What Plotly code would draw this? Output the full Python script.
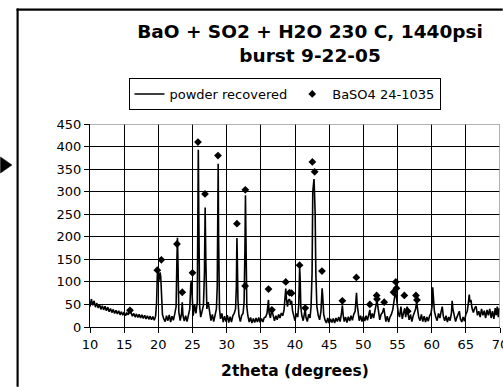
import plotly.graph_objects as go

# ---- data ----
two_theta = [
    10.0, 10.2, 10.4, 10.6, 10.8, 11.0, 11.2, 11.4, 11.6, 11.8,
    12.0, 12.2, 12.4, 12.6, 12.8, 13.0, 13.2, 13.4, 13.6, 13.8,
    14.0, 14.2, 14.4, 14.6, 14.8, 15.0, 15.2, 15.4, 15.6, 15.8,
    16.0, 16.2, 16.4, 16.6, 16.8, 17.0, 17.2, 17.4, 17.6, 17.8,
    18.0, 18.2, 18.4, 18.6, 18.8, 19.0, 19.2, 19.4, 19.6, 19.75,
    19.85, 19.95, 20.05, 20.15, 20.25, 20.35, 20.45, 20.6, 20.8,
    21.0, 21.2, 21.4, 21.6, 21.8, 22.0, 22.2, 22.4, 22.6,
    22.72, 22.8, 22.88, 23.0, 23.2, 23.4, 23.5, 23.6, 23.8,
    24.0, 24.2, 24.4, 24.6, 24.75, 24.85, 24.95, 25.1, 25.3, 25.5,
    25.7, 25.78, 25.85, 25.92, 26.05, 26.2, 26.4, 26.6, 26.75,
    26.85, 26.95, 27.1, 27.3, 27.5, 27.7, 27.9, 28.1, 28.3, 28.5,
    28.62, 28.7, 28.76, 28.82, 28.95, 29.1, 29.3, 29.5, 29.7, 29.9,
    30.1, 30.3, 30.5, 30.7, 30.9, 31.1, 31.3, 31.42, 31.5, 31.56,
    31.65, 31.8, 32.0, 32.2, 32.4, 32.55, 32.68, 32.75, 32.82, 32.95,
    33.1, 33.3, 33.5, 33.7, 33.9, 34.1, 34.3, 34.5, 34.7, 34.9,
    35.1, 35.3, 35.5, 35.7, 35.9, 36.05, 36.12, 36.2, 36.4, 36.6,
    36.8, 37.0, 37.2, 37.4, 37.6, 37.8, 38.0, 38.2, 38.4, 38.55,
    38.65, 38.75, 38.9, 39.0, 39.2, 39.35, 39.5, 39.65, 39.8, 40.0,
    40.2, 40.4, 40.55, 40.68, 40.75, 40.85, 41.0, 41.2, 41.4, 41.5,
    41.6, 41.8, 42.0, 42.2, 42.35, 42.5, 42.6, 42.7, 42.78, 42.85,
    42.95, 43.05, 43.2, 43.4, 43.6, 43.8, 43.9, 43.97, 44.05, 44.2,
    44.4, 44.6, 44.8, 45.0, 45.2, 45.4, 45.6, 45.8, 46.0, 46.2,
    46.4, 46.6, 46.8, 46.93, 47.05, 47.2, 47.4, 47.6, 47.8, 48.0,
    48.2, 48.4, 48.6, 48.8, 48.9, 49.0, 49.1, 49.25, 49.4, 49.6,
    49.8, 50.0, 50.2, 50.4, 50.6, 50.8, 50.95, 51.1, 51.3, 51.5,
    51.7, 51.85, 52.0, 52.1, 52.25, 52.4, 52.6, 52.8, 53.0, 53.15,
    53.3, 53.5, 53.7, 53.9, 54.1, 54.3, 54.45, 54.6, 54.72, 54.8,
    54.95, 55.1, 55.3, 55.5, 55.7, 55.9, 56.05, 56.2, 56.4, 56.55,
    56.7, 56.9, 57.1, 57.3, 57.5, 57.65, 57.8, 57.95, 58.1, 58.3,
    58.5, 58.7, 58.9, 59.1, 59.3, 59.5, 59.7, 59.9, 60.05, 60.15,
    60.25, 60.4, 60.6, 60.8, 61.0, 61.2, 61.4, 61.55, 61.7, 61.9,
    62.1, 62.3, 62.5, 62.7, 62.9, 63.0, 63.1, 63.3, 63.5, 63.7,
    63.9, 64.05, 64.2, 64.4, 64.6, 64.8, 65.0, 65.2, 65.35, 65.5,
    65.6, 65.75, 65.9, 66.1, 66.3, 66.5, 66.7, 66.9, 67.1, 67.3,
    67.5, 67.7, 67.9, 68.1, 68.3, 68.5, 68.7, 68.9, 69.1, 69.3,
    69.45, 69.6, 69.75, 69.9, 70.0,
]
counts = [
    45, 62, 48, 58, 44, 53, 42, 50, 39, 47,
    38, 46, 36, 44, 34, 41, 32, 39, 30, 37,
    29, 36, 27, 34, 26, 33, 25, 31, 27, 37,
    32, 24, 30, 22, 29, 21, 28, 20, 27, 19,
    26, 18, 25, 17, 24, 16, 23, 15, 24, 55,
    115, 123, 100, 108, 121, 112, 60, 28, 18,
    12, 25, 14, 27, 11, 24, 15, 29, 45,
    150, 198, 140, 33, 14, 30, 55, 26, 13,
    25, 12, 28, 40, 95, 103, 70, 25, 50, 30,
    55, 200, 393, 250, 45, 22, 40, 48, 120,
    265, 150, 40, 55, 27, 14, 28, 12, 26, 40,
    90, 250, 362, 200, 40, 18, 30, 11, 24, 12,
    26, 10, 23, 11, 25, 30, 40, 90, 197, 150,
    60, 25, 12, 26, 30, 55, 180, 292, 200, 45,
    25, 11, 21, 9, 19, 10, 20, 11, 21, 10,
    19, 11, 21, 22, 30, 50, 60, 32, 20, 38,
    22, 14, 25, 16, 28, 20, 31, 25, 38, 60,
    85, 62, 45, 58, 62, 50, 58, 35, 24, 14,
    30, 22, 50, 132, 110, 45, 25, 14, 30, 40,
    22, 12, 28, 20, 45, 120, 300, 322, 328, 300,
    250, 120, 45, 26, 16, 35, 60, 86, 70, 28,
    15, 9, 20, 8, 18, 10, 19, 9, 20, 12,
    22, 12, 30, 48, 26, 12, 22, 10, 23, 13,
    25, 15, 28, 35, 55, 76, 50, 25, 14, 25,
    12, 24, 13, 25, 15, 28, 38, 18, 30, 20,
    35, 45, 60, 48, 28, 16, 28, 32, 42, 22,
    12, 24, 11, 22, 28, 38, 55, 70, 80, 72,
    55, 32, 22, 45, 18, 30, 42, 22, 45, 28,
    16, 28, 12, 25, 32, 40, 55, 38, 22, 14,
    28, 12, 24, 11, 22, 13, 25, 30, 45, 88,
    60, 35, 22, 14, 30, 20, 35, 45, 24, 14,
    25, 11, 22, 14, 32, 58, 40, 22, 12, 22,
    28, 35, 18, 11, 22, 13, 28, 35, 50, 72,
    55, 60, 42, 32, 42, 46, 26, 35, 22, 40,
    26, 36, 20, 38, 26, 40, 20, 35, 18, 42,
    26, 45, 22, 42, 35,
]

ref_two_theta = [
    15.85, 19.85, 20.44, 22.73, 23.5, 25.0, 25.8, 26.83, 28.73, 31.5,
    32.73, 32.7, 36.12, 36.62, 38.65, 39.2, 39.5, 40.67, 41.5, 42.54,
    42.88, 43.95, 46.93, 48.98, 50.95, 51.95, 52.0, 53.05, 54.42, 54.75,
    54.85, 56.0, 56.5, 57.7, 57.85,
]
ref_intensity = [
    37, 126, 149, 184, 77, 120, 410, 295, 380, 229,
    304, 91, 84, 38, 100, 76, 75, 137, 42, 366,
    344, 124, 58, 110, 50, 70, 62, 55, 77, 100,
    86, 70, 35, 70, 60,
]

title_lines = ["BaO + SO2 + H2O 230 C, 1440psi", "burst 9-22-05"]
x_label = "2theta (degrees)"
x_ticks = [10, 15, 20, 25, 30, 35, 40, 45, 50, 55, 60, 65, 70]
y_ticks = [0, 50, 100, 150, 200, 250, 300, 350, 400, 450]

FONT = "DejaVu Sans"
W, H = 503, 387


def px_x(p):
    return p / W


def px_y(p):
    return 1 - p / H


fig = go.Figure()

# decoration layer in page pixels (hidden full-page axes): outer frame + arrow
fig.add_trace(go.Scatter(
    x=[16.8, 18.4, 18.4, 16.8, 16.8], y=[8.8, 8.8, 386.5, 386.5, 8.8],
    mode="lines", fill="toself", fillcolor="black",
    line=dict(color="black", width=0.5), xaxis="x2", yaxis="y2",
    showlegend=False, hoverinfo="skip",
))
fig.add_trace(go.Scatter(
    x=[16.8, 502.5, 502.5, 16.8, 16.8], y=[8.8, 8.8, 10.4, 10.4, 8.8],
    mode="lines", fill="toself", fillcolor="black",
    line=dict(color="black", width=0.5), xaxis="x2", yaxis="y2",
    showlegend=False, hoverinfo="skip",
))
fig.add_trace(go.Scatter(
    x=[0.5, 12, 0.5, 0.5], y=[157, 165, 173, 157], mode="lines", fill="toself",
    fillcolor="black", line=dict(color="black", width=0.5),
    xaxis="x2", yaxis="y2", showlegend=False, hoverinfo="skip",
))

fig.add_trace(go.Scatter(
    x=two_theta, y=counts, mode="lines", name="powder recovered",
    line=dict(color="black", width=1.6),
))
fig.add_trace(go.Scatter(
    x=ref_two_theta, y=ref_intensity, mode="markers", name="BaSO4 24-1035",
    marker=dict(symbol="diamond", color="black", size=6),
))

fig.update_layout(
    width=W, height=H,
    margin=dict(l=0, r=0, t=0, b=0),
    paper_bgcolor="white", plot_bgcolor="rgba(0,0,0,0)",
    font=dict(family=FONT, color="black", size=13),
    title=dict(
        text="<b>" + "<br>".join(title_lines) + "</b>",
        x=310 / W, xanchor="center", xref="container",
        y=1 - 38 / H, yanchor="top", yref="container",
        font=dict(family=FONT, size=18.5, color="black"),
    ),
    legend=dict(
        orientation="h", x=px_x(284.5), xanchor="center",
        y=px_y(78), yanchor="top",
        bordercolor="black", borderwidth=1, bgcolor="white",
        font=dict(family=FONT, size=13), itemwidth=30,
    ),
    showlegend=True,
    xaxis2=dict(domain=[0, 1], range=[0, W], visible=False, anchor="y2",
                fixedrange=True),
    yaxis2=dict(domain=[0, 1], range=[H, 0], visible=False, anchor="x2",
                fixedrange=True),
)
fig.update_layout(xaxis=dict(
    domain=[px_x(90), px_x(500)], automargin=False, anchor="y",
    range=[10, 70], tickvals=x_ticks, ticktext=[str(v) for v in x_ticks],
    showgrid=True, gridcolor="black", gridwidth=1,
    ticks="outside", ticklen=5, tickcolor="black",
    showline=True, linecolor="black", linewidth=1, zeroline=False,
    tickfont=dict(family=FONT, size=13), ticklabeloverflow="allow",
    title=dict(text="<b>" + x_label + "</b>", standoff=14,
               font=dict(family=FONT, size=15.5)),
))
fig.update_layout(yaxis=dict(
    domain=[px_y(327), px_y(124)], automargin=False, anchor="x",
    range=[0, 450], tickvals=y_ticks, ticktext=[str(v) for v in y_ticks],
    showgrid=True, gridcolor="black", gridwidth=1,
    ticks="outside", ticklen=5, tickcolor="black",
    showline=True, linecolor="black", linewidth=1, zeroline=False,
    tickfont=dict(family=FONT, size=13),
))

shapes = [
    # gray top and right plot borders
    dict(type="line", xref="x", yref="y", x0=10, x1=70, y0=450, y1=450,
         line=dict(color="#999999", width=1.5)),
    dict(type="line", xref="x", yref="y", x0=70, x1=70, y0=0, y1=450,
         line=dict(color="#999999", width=1.5)),
]
fig.update_layout(shapes=shapes)

fig.write_html("out.html")
